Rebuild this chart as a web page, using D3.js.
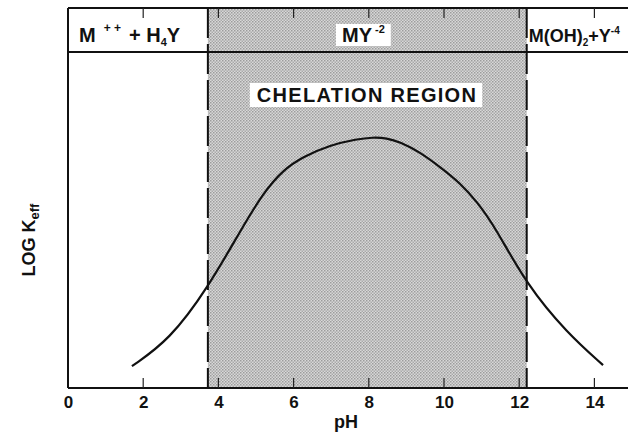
<!DOCTYPE html>
<html>
<head>
<meta charset="utf-8">
<script src="https://cdnjs.cloudflare.com/ajax/libs/d3/7.8.5/d3.min.js"></script>
<style>
  body { margin: 0; background: #fff; }
  svg { display: block; font-family: "Liberation Sans", Arial, sans-serif; font-weight: bold; }
</style>
</head>
<body>
<script>
const W = 628;
const H = 436;

// curve (pH vs LOG K_eff, arbitrary y units)
const curvePH = [1.7, 2.7, 3.72, 4.62, 5.19, 5.72, 6.25, 6.97, 7.69, 8.1, 8.48, 8.83, 9.36, 9.89, 10.43, 10.88, 11.36, 12.2, 13.27, 14.23];
const curveLogK = [0.65, 1.43, 2.98, 4.75, 5.8, 6.49, 6.88, 7.23, 7.41, 7.46, 7.44, 7.32, 7.02, 6.58, 6.1, 5.54, 4.79, 3.07, 1.64, 0.68];

const xTicks = [0, 2, 4, 6, 8, 10, 12, 14];
const chelation = [3.72, 12.2];

const margin = {left: 68, top: 8, bottom: 48};

const x = d3.scaleLinear().domain([0, 15]).range([margin.left, margin.left + 15 * 37.6]);
const y = d3.scaleLinear().domain([0, 10]).range([H - margin.bottom, 52]);
const yTop = margin.top;
const base = H - margin.bottom;

const svg = d3.select("body").append("svg")
    .attr("width", W)
    .attr("height", H);

// stipple pattern for the chelation region
const pat = svg.append("defs").append("pattern")
    .attr("id", "dots")
    .attr("width", 3).attr("height", 3)
    .attr("patternUnits", "userSpaceOnUse");
pat.append("rect").attr("width", 3).attr("height", 3).attr("fill", "#d8d8d8");
pat.append("rect").attr("width", 1.5).attr("height", 1.5).attr("fill", "#9c9c9c");
pat.append("rect").attr("x", 1.5).attr("y", 1.5).attr("width", 1.5).attr("height", 1.5).attr("fill", "#aaaaaa");

svg.append("rect")
    .attr("x", x(chelation[0]))
    .attr("y", yTop)
    .attr("width", x(chelation[1]) - x(chelation[0]))
    .attr("height", base - yTop)
    .attr("fill", "url(#dots)");

// frame
const frame = svg.append("g").attr("stroke", "#111").attr("stroke-width", 2);
frame.append("line").attr("x1", x(0)).attr("x2", x(0)).attr("y1", yTop).attr("y2", base);
frame.append("line").attr("x1", x(0)).attr("x2", W + 5).attr("y1", yTop).attr("y2", yTop);
frame.append("line").attr("x1", x(0)).attr("x2", W + 5).attr("y1", base).attr("y2", base);
frame.append("line").attr("x1", x(0)).attr("x2", W + 5).attr("y1", 52).attr("y2", 52);

// bottom axis
const xAxis = d3.axisBottom(x).tickValues(xTicks).tickSize(0).tickPadding(8);
const gx = svg.append("g").attr("transform", `translate(0,${base})`).call(xAxis);
gx.select(".domain").remove();
gx.selectAll("text")
    .attr("font-size", 17).attr("font-family", "Liberation Sans, Arial, sans-serif")
    .attr("font-weight", "bold").attr("fill", "#111");

// inner ticks, bottom and top
svg.append("g").selectAll("line")
    .data(xTicks.filter(d => d > 0)).enter()
  .append("line")
    .attr("x1", d => x(d)).attr("x2", d => x(d))
    .attr("y1", base).attr("y2", base - 10)
    .attr("stroke", "#222").attr("stroke-width", 1.2);
svg.append("g").selectAll("line")
    .data(xTicks.filter(d => d > 0)).enter()
  .append("line")
    .attr("x1", d => x(d)).attr("x2", d => x(d))
    .attr("y1", yTop).attr("y2", yTop + 10)
    .attr("stroke", "#222").attr("stroke-width", 1.2);

// dashed boundaries
svg.append("g").selectAll("line")
    .data(chelation).enter()
  .append("line")
    .attr("x1", d => x(d)).attr("x2", d => x(d))
    .attr("y1", yTop).attr("y2", base)
    .attr("stroke", "#111").attr("stroke-width", 2)
    .attr("stroke-dasharray", "30,6");

// curve
const line = d3.line()
    .x((d, i) => x(curvePH[i]))
    .y(d => y(d))
    .curve(d3.curveBasis);
svg.append("path")
    .datum(curveLogK)
    .attr("d", line)
    .attr("fill", "none")
    .attr("stroke", "#111")
    .attr("stroke-width", 2.2);

// header labels
const hdr = svg.append("g").attr("font-size", 20).attr("fill", "#111");

const t1 = hdr.append("text").attr("x", 79).attr("y", 42);
t1.append("tspan").text("M");
t1.append("tspan").attr("dx", 8).attr("dy", -10).attr("font-size", 12).text("+ +");
t1.append("tspan").attr("dx", 8).attr("dy", 10).text("+ H");
t1.append("tspan").attr("dy", 4).attr("font-size", 11).text("4");
t1.append("tspan").attr("dy", -4).text("Y");

const myBox = hdr.append("rect").attr("fill", "#fff");
const my = hdr.append("text").attr("x", 342).attr("y", 42);
my.append("tspan").text("MY");
my.append("tspan").attr("dx", 3).attr("dy", -9).attr("font-size", 11).text("-2");
const bb = my.node().getBBox();
myBox.attr("x", bb.x - 6).attr("y", bb.y + 1)
    .attr("width", bb.width + 12).attr("height", bb.height - 1);

const t3 = hdr.append("text").attr("x", x(chelation[1]) + 2).attr("y", 42)
    .attr("font-size", 18);
t3.append("tspan").text("M(OH)");
t3.append("tspan").attr("dy", 4).attr("font-size", 10).text("2");
t3.append("tspan").attr("dy", -4).text("+Y");
t3.append("tspan").attr("dy", -8).attr("font-size", 10).text("-4");

// chelation region label
const crBox = svg.append("rect").attr("fill", "#fff");
const cr = svg.append("text")
    .attr("x", 367).attr("y", 102)
    .attr("text-anchor", "middle")
    .attr("font-size", 20)
    .attr("letter-spacing", 1.3)
    .attr("fill", "#111")
    .text("CHELATION REGION");
const cb = cr.node().getBBox();
crBox.attr("x", cb.x - 7).attr("y", cb.y - 1)
    .attr("width", cb.width + 12).attr("height", cb.height + 2);

// axis titles
svg.append("text")
    .attr("x", 346).attr("y", 428)
    .attr("text-anchor", "middle")
    .attr("font-size", 18)
    .attr("fill", "#111")
    .text("pH");

const yl = svg.append("text")
    .attr("transform", "translate(35,240) rotate(-90)")
    .attr("text-anchor", "middle")
    .attr("font-size", 18)
    .attr("fill", "#111");
yl.append("tspan").text("LOG K");
yl.append("tspan").attr("dy", 4).attr("font-size", 13).text("eff");
</script>
</body>
</html>
